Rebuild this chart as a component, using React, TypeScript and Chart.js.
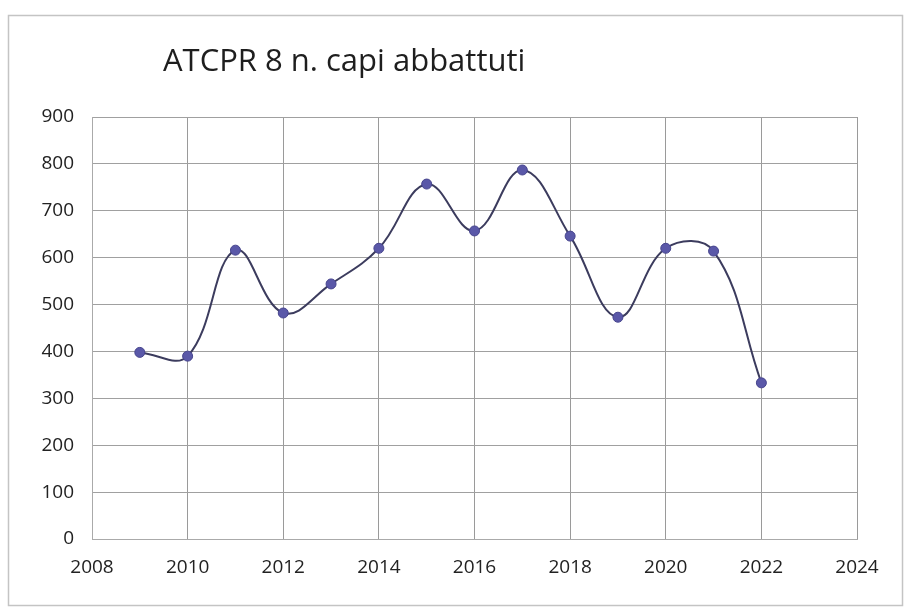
import React, { useEffect, useRef } from "react";
import { Chart, registerables } from "chart.js";

Chart.register(...registerables);

const TITLE = "ATCPR 8 n. capi abbattuti";
const years = [2009, 2010, 2011, 2012, 2013, 2014, 2015, 2016, 2017, 2018, 2019, 2020, 2021, 2022];
const abbattuti = [398, 390, 616, 482, 544, 620, 757, 657, 787, 646, 473, 620, 614, 333];
const xTickMin = 2008;
const xTickMax = 2024;
const xTickStep = 2;
const yTickMin = 0;
const yTickMax = 900;
const yTickStep = 100;

const FONT = "'Open Sans', Lato, sans-serif";

const framePlugin = {
  id: "frame",
  beforeDraw(chart: any) {
    const ctx = chart.ctx;
    ctx.save();
    ctx.fillStyle = "#ffffff";
    ctx.fillRect(0, 0, chart.width, chart.height);
    ctx.strokeStyle = "#c4c4c4";
    ctx.lineWidth = 1.5;
    ctx.strokeRect(8.5, 15.5, 894, 590);
    ctx.restore();
  },
  afterDraw(chart: any) {
    const ctx = chart.ctx;
    ctx.save();
    ctx.font = `31px ${FONT}`;
    ctx.fillStyle = "#1e1e1e";
    ctx.textBaseline = "alphabetic";
    ctx.textAlign = "left";
    ctx.fillText(TITLE, 163, 71);
    ctx.restore();
  },
};

export default function App() {
  const ref = useRef<HTMLCanvasElement | null>(null);
  useEffect(() => {
    document.body.style.margin = "0";
    const canvas = ref.current;
    if (!canvas) return;
    const chart = new Chart(canvas, {
      type: "line",
      data: {
        datasets: [
          {
            label: TITLE,
            data: years.map((y, i) => ({ x: y, y: abbattuti[i] })),
            borderColor: "#3c3c5e",
            borderWidth: 2,
            backgroundColor: "#5a58a8",
            pointBackgroundColor: "#5a58a8",
            pointBorderColor: "#47458e",
            pointBorderWidth: 1,
            pointRadius: 5,
            tension: 0.4,
            fill: false,
          },
        ],
      },
      plugins: [framePlugin],
      options: {
        animation: false,
        responsive: false,
        maintainAspectRatio: false,
        devicePixelRatio: 1,
        layout: { padding: { top: 117, right: 47, bottom: 20, left: 0 } },
        plugins: {
          legend: { display: false },
          title: { display: false },
          tooltip: { enabled: false },
        },
        scales: {
          x: {
            type: "linear",
            min: xTickMin,
            max: xTickMax,
            ticks: {
              stepSize: xTickStep,
              color: "#222",
              font: { family: FONT, size: 19 },
              padding: 17,
              callback: (v: any) => String(v),
              maxRotation: 0,
            },
            grid: { color: "#9a9a9a", lineWidth: 1, drawTicks: false },
            border: { color: "#aaaaaa", width: 1 },
            afterFit: (s: any) => {
              s.height = 49;
            },
          },
          y: {
            min: yTickMin,
            max: yTickMax,
            ticks: {
              stepSize: yTickStep,
              color: "#222",
              font: { family: FONT, size: 19 },
              padding: 18,
            },
            grid: { color: "#a0a0a0", lineWidth: 1, drawTicks: false },
            border: { color: "#aaaaaa", width: 1 },
            afterFit: (s: any) => {
              s.width = 92;
            },
          },
        },
      },
    });
    return () => chart.destroy();
  }, []);
  return <canvas ref={ref} width={904} height={608} style={{ display: "block" }} />;
}
